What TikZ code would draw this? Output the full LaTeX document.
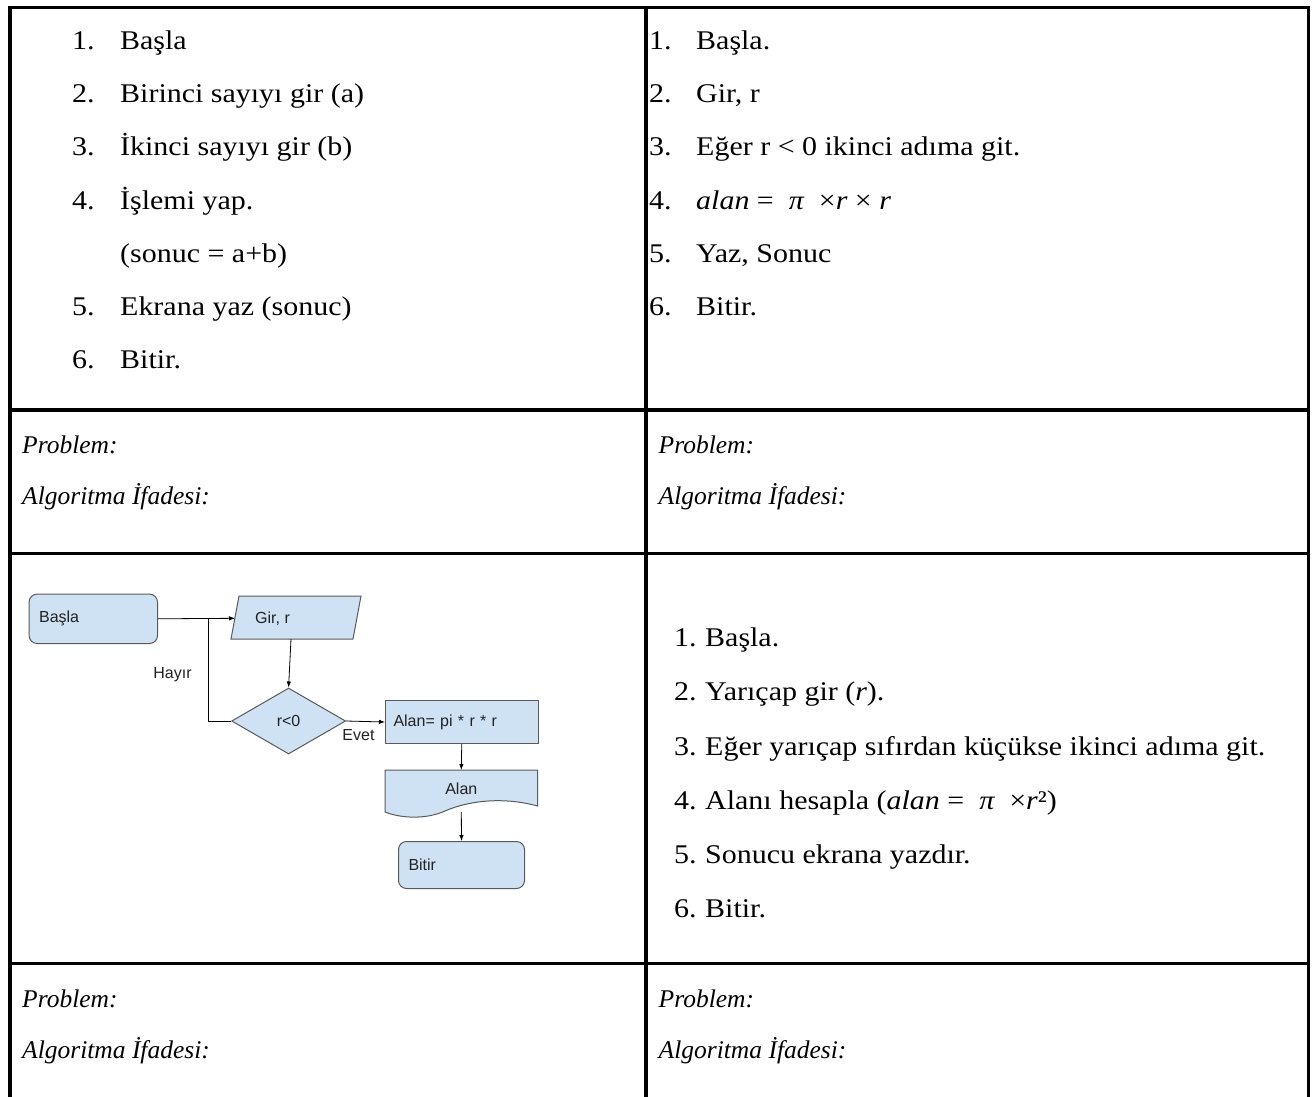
\documentclass[tikz,border=0pt]{standalone}
\usepackage{fontspec}
\setmainfont{Liberation Serif}[FakeStretch=1.11]
\newfontfamily\probfont{Liberation Serif}
\newfontfamily\sansfc{Liberation Sans}
\usetikzlibrary{arrows.meta,shapes.geometric,calc}
\definecolor{bf}{HTML}{CFE2F3}
\definecolor{bd}{HTML}{5A5A5A}
\definecolor{ft}{HTML}{222222}
\begin{document}
\begin{tikzpicture}[x=1pt,y=-1pt,
  tbl/.style={line width=3.2pt,draw=black,line join=miter},
  txt/.style={anchor=base west,inner sep=0pt,font=\fontsize{27}{31}\selectfont},
  itx/.style={anchor=base west,inner sep=0pt,font=\probfont\itshape\fontsize{25.5}{30}\selectfont},
  fc/.style={font=\sansfc\fontsize{16}{19}\selectfont,text=ft},
  term/.style={fc,draw=bd,fill=bf,line width=1pt,rounded corners=8pt,text width=#1,inner xsep=10pt,align=left,anchor=north west},
  procbox/.style={fc,draw=bd,fill=bf,line width=1pt,text width=#1,inner xsep=8pt,align=left,anchor=north west},
  shp/.style={draw=bd,fill=bf,line width=1pt},
  arr/.style={draw=black,line width=0.8pt,-{Latex[length=6pt,width=4.5pt]}},
  ln/.style={draw=black,line width=0.8pt}]
\useasboundingbox (0,0) rectangle (1315,1097);
\fill[white] (0,0) rectangle (1315,1097);
% table grid
\draw[tbl] (10,1097) -- (10,7.5) -- (1308.5,7.5) -- (1308.5,1097);
\draw[tbl] (646,7.5) -- (646,1097);
\draw[tbl] (10,410) -- (1308.5,410);
\draw[tbl] (10,553.5) -- (1308.5,553.5);
\draw[tbl] (10,963.5) -- (1308.5,963.5);
% row 1 left
\node[txt] (a1n) at (72,50) {1.};  \node[txt] (a1t) at (120,50) {Başla};
\node[txt] (a2n) at (72,103) {2.}; \node[txt] (a2t) at (120,103) {Birinci sayıyı gir (a)};
\node[txt] (a3n) at (72,156) {3.}; \node[txt] (a3t) at (120,156) {İkinci sayıyı gir (b)};
\node[txt] (a4n) at (72,209) {4.}; \node[txt] (a4t) at (120,209) {İşlemi yap.};
\node[txt] (a4s) at (120,262) {(sonuc = a+b)};
\node[txt] (a5n) at (72,315) {5.}; \node[txt] (a5t) at (120,315) {Ekrana yaz (sonuc)};
\node[txt] (a6n) at (72,368) {6.}; \node[txt] (a6t) at (120,368) {Bitir.};
% row 1 right
\node[txt] (b1n) at (649,50) {1.};  \node[txt] (b1t) at (696,50) {Başla.};
\node[txt] (b2n) at (649,103) {2.}; \node[txt] (b2t) at (696,103) {Gir, r};
\node[txt] (b3n) at (649,156) {3.}; \node[txt] (b3t) at (696,156) {Eğer r < 0 ikinci adıma git.};
\node[txt] (b4n) at (649,209) {4.}; \node[txt] (b4t) at (696,209) {\itshape alan\upshape{} = \ \itshape π\upshape{} \ ×\itshape r\upshape{} × \itshape r};
\node[txt] (b5n) at (649,262) {5.}; \node[txt] (b5t) at (696,262) {Yaz, Sonuc};
\node[txt] (b6n) at (649,315) {6.}; \node[txt] (b6t) at (696,315) {Bitir.};
% row 2
\node[itx] (p1) at (22,453.5) {Problem:};
\node[itx] (q1) at (22,504.5) {Algoritma İfadesi:};
\node[itx] (p2) at (658.5,453.5) {Problem:};
\node[itx] (q2) at (658.5,504.5) {Algoritma İfadesi:};
% row 3 right
\node[txt] (c1n) at (674,646) {1.}; \node[txt] (c1t) at (705,646) {Başla.};
\node[txt] (c2n) at (674,700) {2.}; \node[txt] (c2t) at (705,700) {Yarıçap gir (\itshape r\upshape).};
\node[txt] (c3n) at (674,755) {3.}; \node[txt] (c3t) at (705,755) {Eğer yarıçap sıfırdan küçükse ikinci adıma git.};
\node[txt] (c4n) at (674,809) {4.}; \node[txt] (c4t) at (705,809) {Alanı hesapla (\itshape alan\upshape{} = \ \itshape π\upshape{} \ ×\itshape r\upshape²)};
\node[txt] (c5n) at (674,863) {5.}; \node[txt] (c5t) at (705,863) {Sonucu ekrana yazdır.};
\node[txt] (c6n) at (674,917.5) {6.}; \node[txt] (c6t) at (705,917.5) {Bitir.};
% row 4
\node[itx] (p3) at (22,1007) {Problem:};
\node[itx] (q3) at (22,1058) {Algoritma İfadesi:};
\node[itx] (p4) at (658.5,1007) {Problem:};
\node[itx] (q4) at (658.5,1058) {Algoritma İfadesi:};
% flowchart
\node[term=108.4pt,minimum height=49.4pt] (fbasla) at (28.6,593.6) {Başla};
\coordinate (g1) at (239,596); \coordinate (g2) at (361,596);
\coordinate (g3) at (353,639); \coordinate (g4) at (231,639);
\draw[shp] (g1) -- (g2) -- (g3) -- (g4) -- cycle;
\node[fc,anchor=west,inner sep=0pt] (fgir) at (255,618.3) {Gir, r};
\coordinate (gl) at (235,618.3);
\coordinate (gb) at (291,639);
\node[shp,diamond,minimum width=114pt,minimum height=66pt,inner sep=0pt,fc] (fdec) at (288.6,721) {r<0};
\node[procbox=136.5pt,minimum height=43pt] (falan) at (385,700) {Alan= pi * r * r};
\coordinate (dt) at (461.3,770);
\coordinate (dl) at (385,770); \coordinate (dr) at (537.5,770);
\draw[shp] (dl) -- (dr) -- (537.5,806) .. controls (505,797) and (470,800) .. (445,811)
  .. controls (425,820) and (400,818) .. (385,812) -- cycle;
\node[fc,inner sep=0pt] (fdoc) at (461.3,789) {Alan};
\coordinate (db) at (461.3,812);
\node[term=106pt,minimum height=47pt] (fbitir) at (398,841) {Bitir};
\coordinate (hj) at (208,618.3);
\draw[arr] (fbasla.east) -- (gl);
\draw[arr] (gb) -- (fdec.north);
\draw[ln] (fdec.west) -- (208,721) -- (hj);
\draw[arr] (fdec.east) -- (falan.west);
\draw[arr] (falan.south) -- (dt);
\draw[arr] (db) -- (fbitir.north);
\node[fc,inner sep=0pt] (lhayir) at (172.5,675) {Hayır};
\node[fc,inner sep=0pt] (levet) at (358.5,735) {Evet};
\end{tikzpicture}
\end{document}
